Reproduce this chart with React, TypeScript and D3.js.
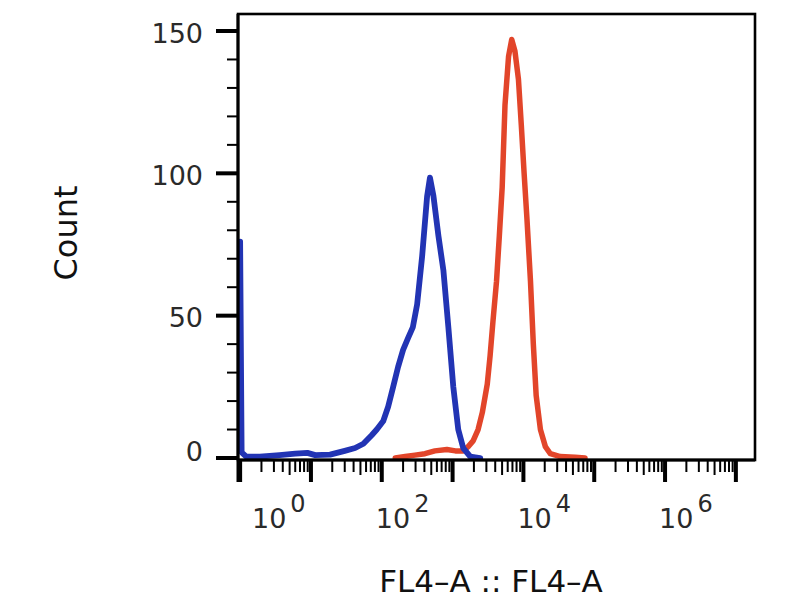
import React from 'react';
import * as d3 from 'd3';

// Blue histogram (FL4-A intensity vs count)
const blueFluor = [1.0, 1.05, 1.22, 1.9, 3.6, 6.0, 8.9, 11.5, 18.6, 30, 42, 55, 72, 85, 105, 123, 145, 170, 200, 234, 275, 316, 372, 437, 479, 537, 631, 741, 871, 1023, 1202, 1413, 1778, 2455];
const blueCount = [76, 2, 0.5, 0.5, 1, 1.5, 1.8, 1.0, 1.2, 2.5, 3.5, 5, 8, 10, 13, 18, 25, 32, 38, 42, 46, 54, 71, 92, 98.5, 92, 78, 66, 46, 25, 10, 3.5, 0.5, 0];

// Red histogram
const redFluor = [155, 214, 295, 407, 562, 832, 1096, 1413, 1660, 1950, 2291, 2630, 3090, 3388, 3715, 4169, 4571, 5012, 5495, 6166, 6839, 7586, 8511, 9333, 10233, 11220, 12589, 13804, 15136, 17378, 20417, 23988, 33113, 53703, 74131];
const redCount = [0, 0.5, 1, 1.5, 2.5, 3, 2.5, 2.5, 4, 6, 10, 16, 26, 36, 48, 62, 78, 95, 124, 141, 147, 143, 133, 117, 100, 84, 62, 40, 22, 10, 4, 1.5, 0.5, 0.3, 0];

const yMajorTicks = [0, 50, 100, 150];
const yMinorTicks = [10, 20, 30, 40, 60, 70, 80, 90, 110, 120, 130, 140];
const xDecades = [0, 1, 2, 3, 4, 5, 6, 7];
const xLabelExponents = [0, 2, 4, 6];

const xTitle = 'FL4–A :: FL4–A';
const yTitle = 'Count';

const BLUE = '#2234b4';
const RED = '#e2452a';

export default function App() {
  const left = 238, right = 755, top = 14, bottom = 460;
  const x = d3.scaleLog().domain([Math.pow(10, -0.03), Math.pow(10, 7.27)]).range([left, right]);
  const y = d3.scaleLinear().domain([0, 150]).range([458, 31]);

  const line = d3
    .line<[number, number]>()
    .x((d) => x(d[0]))
    .y((d) => y(d[1]))
    .curve(d3.curveLinear);

  const blueData: [number, number][] = blueFluor.map((v, i) => [v, blueCount[i]]);
  const redData: [number, number][] = redFluor.map((v, i) => [v, redCount[i]]);

  const minorX: { v: number; k: number }[] = [];
  xDecades.forEach((e) => {
    for (let k = 2; k <= 9; k++) {
      const v = k * Math.pow(10, e);
      if (v < x.domain()[1]) minorX.push({ v, k });
    }
  });

  const font = "'DejaVu Sans', Verdana, sans-serif";

  return (
    <svg
      width={800}
      height={600}
      style={{ position: 'absolute', left: 0, top: 0, background: '#fff' }}
      fontFamily={font}
    >
      <rect x={0} y={0} width={800} height={600} fill="#fff" />

      {/* histograms */}
      <path d={line(redData) || ''} fill="none" stroke={RED} strokeWidth={5.5} strokeLinejoin="round" strokeLinecap="round" />
      <path d={line(blueData) || ''} fill="none" stroke={BLUE} strokeWidth={5.8} strokeLinejoin="round" strokeLinecap="round" />

      {/* frame */}
      <rect x={left} y={top} width={right - left} height={bottom - top} fill="none" stroke="#000" strokeWidth={2.6} />
      <line x1={left} x2={left} y1={top} y2={482} stroke="#000" strokeWidth={3} />
      <line x1={left} x2={right} y1={bottom} y2={bottom} stroke="#000" strokeWidth={3} />

      {/* y ticks */}
      {yMajorTicks.map((t) => (
        <line key={'ym' + t} x1={216} x2={left} y1={y(t)} y2={y(t)} stroke="#000" strokeWidth={4} />
      ))}
      {yMinorTicks.map((t) => (
        <line key={'yn' + t} x1={227} x2={left} y1={y(t)} y2={y(t)} stroke="#000" strokeWidth={2} />
      ))}
      {yMajorTicks.map((t) => (
        <text
          key={'yl' + t}
          x={203}
          y={Math.min(y(t), 449) + 2}
          textAnchor="end"
          dominantBaseline="central"
          fontSize={27}
          fill="#2a2a2a"
        >
          {t}
        </text>
      ))}

      {/* x ticks */}
      {xDecades.map((e) => (
        <line key={'xm' + e} x1={x(Math.pow(10, e))} x2={x(Math.pow(10, e))} y1={bottom} y2={482} stroke="#000" strokeWidth={4} />
      ))}
      {minorX.map(({ v, k }) => (
        <line key={'xn' + v} x1={x(v)} x2={x(v)} y1={bottom} y2={k === 5 ? 475 : 472} stroke="#000" strokeWidth={2} />
      ))}
      {xLabelExponents.map((e) => (
        <text key={'xl' + e} x={Math.max(x(Math.pow(10, e)) - 6, 252)} y={528} fontSize={27} fill="#2a2a2a">
          10
          <tspan dx={4} dy={-16} fontSize={24}>
            {e}
          </tspan>
        </text>
      ))}

      {/* axis titles */}
      <text x={491} y={592} textAnchor="middle" fontSize={31} fill="#111">
        {xTitle}
      </text>
      <text
        transform="translate(77,233) rotate(-90)"
        textAnchor="middle"
        fontSize={32}
        fill="#111"
      >
        {yTitle}
      </text>
    </svg>
  );
}
